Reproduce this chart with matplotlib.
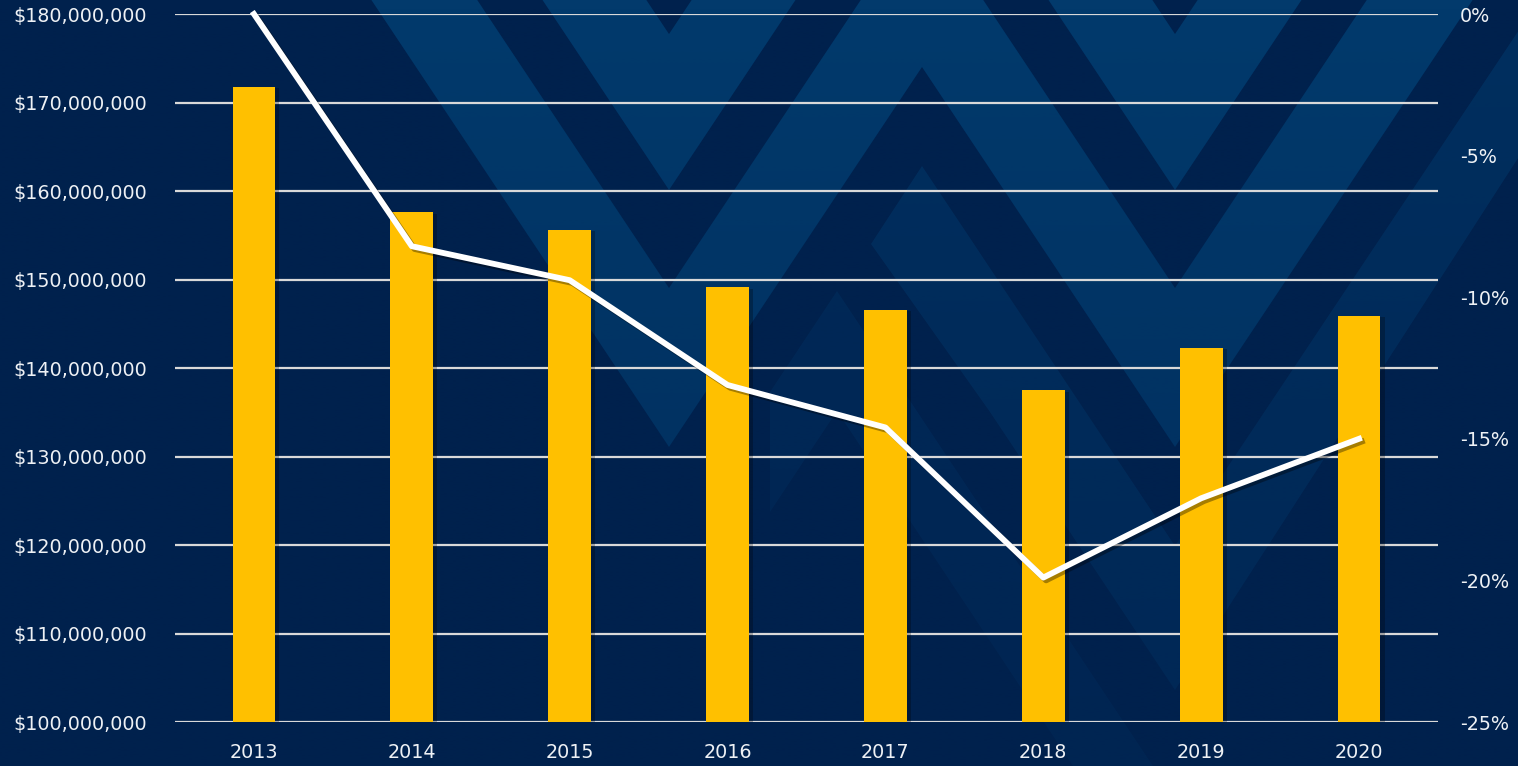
import numpy as np
import matplotlib.pyplot as plt
import matplotlib.patheffects as pe
from matplotlib.patches import Polygon
from matplotlib.colors import to_rgb
from matplotlib.ticker import FuncFormatter

# values
YEARS = ['2013', '2014', '2015', '2016', '2017', '2018', '2019', '2020']
FUNDING = [171.8e6, 157.6e6, 155.6e6, 149.1e6, 146.6e6, 137.5e6, 142.3e6, 145.9e6]
PCT_CHANGE = [0.0, -8.2, -9.4, -13.1, -14.6, -19.9, -17.1, -15.0]

LEFT_TICKS = [100e6, 110e6, 120e6, 130e6, 140e6, 150e6, 160e6, 170e6, 180e6]
RIGHT_TICKS = [0, -5, -10, -15, -20, -25]

NAVY = '#00214d'
NAVY_LIGHT = '#023a6c'
GOLD = '#ffc000'
GRID = '#d9d9d9'
TEXT = '#eef1f5'

W, H = 1518, 766
fig = plt.figure(figsize=(W / 100, H / 100), dpi=100)
fig.patch.set_facecolor(NAVY)

# decorative chevron background (pixel coords, y down)
bg = fig.add_axes([0, 0, 1, 1], zorder=0)
bg.axis('off')
bg.set_facecolor(NAVY)

ZX = [163, 416, 669, 922, 1175, 1681]
ZO = [-380, 0, 380, 0, 380, -380]


def edge(c):
    return [(x, c + o) for x, o in zip(ZX, ZO)]


def band(c1, c2, alpha=1.0):
    pts = edge(c1) + edge(c2)[::-1]
    bg.add_patch(Polygon(pts, closed=True, facecolor=NAVY_LIGHT, edgecolor='none', alpha=alpha))


band(-346, -190)
band(-92, 67)

# lower, fainter chevrons on the right
bg.add_patch(Polygon([(871, 244), (922, 166), (1175, 546), (1539, 0), (1620, 0),
                      (1175, 690), (990, 412)],
                     closed=True, facecolor=NAVY_LIGHT, edgecolor='none', alpha=0.6))
bg.add_patch(Polygon([(770, 392), (837, 291), (1153, 766), (1073, 766), (837, 411), (770, 512)],
                     closed=True, facecolor=NAVY_LIGHT, edgecolor='none', alpha=0.4))

# fade the pattern towards the bottom
grad = np.zeros((100, 2, 4))
grad[..., :3] = to_rgb(NAVY)
grad[..., 3] = np.linspace(0.0, 0.55, 100)[:, None]
bg.imshow(grad, extent=(0, W, H, 0), aspect='auto', zorder=5, interpolation='bilinear')
bg.set_xlim(0, W)
bg.set_ylim(H, 0)

# main chart
ax = fig.add_axes([175 / W, (H - 722) / H, (1438 - 175) / W, (722 - 14) / H], zorder=1)
ax.patch.set_alpha(0)
x = range(len(YEARS))
bars = ax.bar(x, FUNDING, width=0.27, color=GOLD, zorder=2)
for b in bars:
    b.set_path_effects([pe.SimplePatchShadow(offset=(3, -1), shadow_rgbFace='black', alpha=0.25),
                        pe.Normal()])

ax.set_ylim(100e6, 180e6)
ax.set_xlim(-0.5, len(YEARS) - 0.5)
ax.set_yticks(LEFT_TICKS)
ax.yaxis.set_major_formatter(FuncFormatter(lambda v, p: '${:,.0f}'.format(v)))
ax.set_xticks(list(x))
ax.set_xticklabels(YEARS)
ax.grid(axis='y', color=GRID, linewidth=1.6, zorder=1)
ax.set_axisbelow(True)
for s in ax.spines.values():
    s.set_visible(False)
ax.tick_params(axis='both', length=0, colors=TEXT, labelsize=13.8)
ax.tick_params(axis='y', pad=20)
ax.tick_params(axis='x', pad=15)

ax2 = ax.twinx()
ax2.set_ylim(-25, 0)
ax2.set_yticks(RIGHT_TICKS)
ax2.yaxis.set_major_formatter(FuncFormatter(lambda v, p: '{:.0f}%'.format(v)))
ax2.plot(list(x), PCT_CHANGE, color='white', linewidth=4.2, solid_joinstyle='round',
         clip_on=False, zorder=3,
         path_effects=[pe.SimpleLineShadow(offset=(2, -2), shadow_color='black', alpha=0.35),
                       pe.Normal()])
for s in ax2.spines.values():
    s.set_visible(False)
ax2.tick_params(axis='y', length=0, colors=TEXT, labelsize=13.8, pad=16)

plt.savefig('out.png', dpi=100, facecolor=fig.get_facecolor())
